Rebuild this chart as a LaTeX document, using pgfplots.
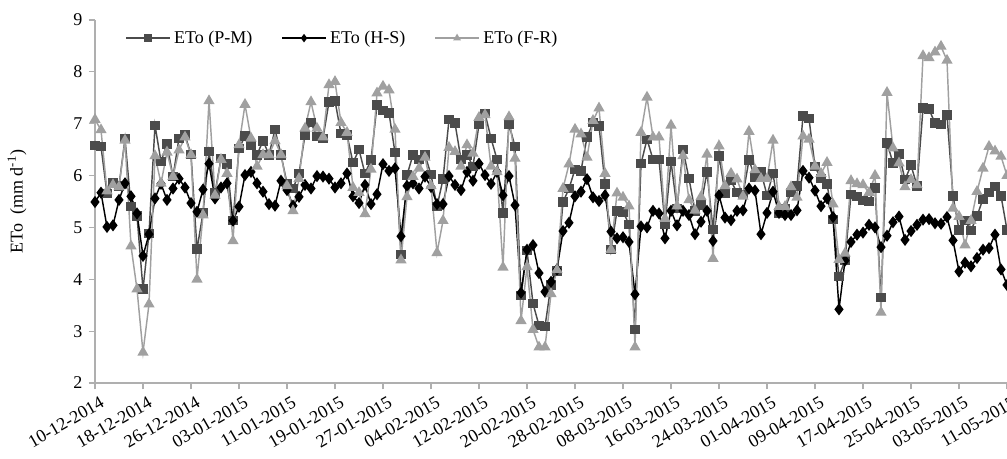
\documentclass[border=0pt]{standalone}
\usepackage{fontspec}
\setmainfont{Liberation Serif}
\usepackage{pgfplots}
\usepackage{pgfplotstable}
\pgfplotsset{compat=1.18}
\definecolor{pmgray}{RGB}{75,75,75}
\definecolor{frgray}{RGB}{160,160,160}
\definecolor{axgray}{RGB}{175,175,175}

% day = days after 10-12-2014; pm = P-M, hs = H-S, fr = F-R (mm/d)
\pgfplotstableread{
day pm hs fr
0 6.58 5.49 7.08
1 6.56 5.67 6.88
2 5.65 5.01 5.70
3 5.86 5.04 5.82
4 5.80 5.53 5.78
5 6.71 5.85 6.68
6 5.40 5.60 4.64
7 5.22 5.27 3.81
8 3.81 4.45 2.59
9 4.88 4.87 3.52
10 6.97 5.56 6.38
11 6.27 5.84 5.85
12 6.61 5.53 6.45
13 5.98 5.75 5.98
14 6.72 5.94 6.49
15 6.78 5.77 6.74
16 6.41 5.47 6.40
17 4.58 5.30 4.00
18 5.28 5.73 5.24
19 6.46 6.23 7.44
20 5.66 5.56 5.62
21 6.33 5.77 6.31
22 6.22 5.85 6.04
23 5.13 5.13 4.74
24 6.52 5.40 6.59
25 6.76 6.01 7.37
26 6.59 6.07 6.72
27 6.40 5.85 6.18
28 6.67 5.69 6.40
29 6.40 5.45 6.40
30 6.89 5.42 6.67
31 6.40 5.90 6.40
32 5.85 5.72 5.80
33 5.75 5.42 5.32
34 6.04 5.59 5.94
35 6.78 5.82 6.91
36 7.02 5.75 7.42
37 6.75 5.99 6.91
38 6.72 5.98 6.74
39 7.42 5.94 7.75
40 7.44 5.77 7.81
41 6.81 5.85 7.02
42 6.78 6.04 6.83
43 6.25 5.60 5.77
44 6.50 5.47 5.67
45 6.04 5.82 5.26
46 6.30 5.45 6.12
47 7.36 5.64 7.59
48 7.26 6.22 7.72
49 7.21 6.09 7.65
50 6.44 6.14 6.89
51 4.48 4.83 4.37
52 6.01 5.80 5.59
53 6.40 5.85 5.98
54 6.31 5.75 6.14
55 6.40 5.98 6.35
56 6.02 5.78 5.80
57 5.40 5.45 4.51
58 5.93 5.45 5.13
59 7.08 5.99 6.54
60 7.01 5.82 6.46
61 6.31 5.72 6.18
62 6.40 6.07 6.59
63 6.18 5.90 6.43
64 6.99 6.23 7.12
65 7.20 6.01 7.17
66 6.72 5.84 6.18
67 6.31 6.07 6.07
68 5.28 5.62 4.23
69 6.99 5.99 7.13
70 6.56 5.43 6.33
71 3.69 3.74 3.20
72 4.55 4.57 4.24
73 3.53 4.66 3.03
74 3.11 4.12 2.69
75 3.09 3.76 2.69
76 3.89 3.95 3.72
77 4.16 4.19 4.18
78 5.49 4.93 5.75
79 5.75 5.09 6.22
80 6.12 5.60 6.89
81 6.09 5.69 6.80
82 6.74 5.93 6.35
83 7.02 5.58 7.06
84 6.96 5.51 7.30
85 5.84 5.62 6.04
86 4.57 4.92 4.57
87 5.32 4.79 5.66
88 5.30 4.81 5.58
89 5.06 4.72 5.41
90 3.03 3.71 2.69
91 6.23 5.02 6.83
92 6.70 5.00 7.51
93 6.31 5.32 6.74
94 6.31 5.27 6.74
95 5.06 4.79 5.17
96 6.27 5.32 6.97
97 5.37 5.04 5.41
98 6.50 5.32 6.38
99 5.94 5.24 5.53
100 5.32 4.87 5.33
101 5.43 5.11 5.59
102 6.07 5.32 6.41
103 4.96 4.74 4.40
104 6.38 5.62 6.57
105 5.66 5.19 5.80
106 5.90 5.14 6.04
107 5.67 5.32 5.93
108 5.64 5.33 5.60
109 6.30 5.75 6.85
110 5.96 5.71 6.11
111 6.07 4.87 5.94
112 5.62 5.28 5.94
113 6.04 5.69 6.68
114 5.28 5.28 5.40
115 5.37 5.24 5.40
116 5.67 5.24 5.78
117 5.80 5.33 5.58
118 7.15 6.09 6.76
119 7.10 5.96 6.70
120 6.17 5.71 6.18
121 5.94 5.41 6.04
122 5.84 5.56 6.25
123 5.15 5.20 5.45
124 4.05 3.42 4.38
125 4.37 4.36 4.50
126 5.64 4.72 5.90
127 5.60 4.86 5.84
128 5.52 4.90 5.82
129 5.50 5.05 5.67
130 5.76 5.00 6.00
131 3.65 4.62 3.36
132 6.63 4.84 7.60
133 6.24 5.10 6.53
134 6.42 5.21 6.24
135 5.92 4.76 5.78
136 6.20 4.93 5.92
137 5.80 5.05 5.82
138 7.30 5.15 8.31
139 7.28 5.16 8.27
140 7.01 5.08 8.38
141 6.98 5.07 8.49
142 7.17 5.20 8.22
143 5.61 4.75 5.37
144 4.95 4.15 5.21
145 5.13 4.32 4.66
146 4.94 4.25 5.13
147 5.22 4.41 5.69
148 5.55 4.57 6.14
149 5.67 4.60 6.56
150 5.79 4.86 6.47
151 5.61 4.19 6.37
152 4.95 3.89 6.00
}\etodata

\begin{document}
\fontsize{9.9}{12}\selectfont
\begin{tikzpicture}
\begin{axis}[
    name=ax,
    scale only axis,
    width=501.6pt, height=199.65pt,
    xmin=0, xmax=152,
    ymin=2, ymax=9,
    axis lines=left,
    axis line style={draw=axgray, line width=0.6pt, -},
    tick style={draw=axgray, line width=0.6pt},
    tick align=outside,
    major tick length=3.5pt,
    xtick={0,8,...,152},
    xticklabels={10-12-2014,18-12-2014,26-12-2014,03-01-2015,11-01-2015,19-01-2015,27-01-2015,04-02-2015,12-02-2015,20-02-2015,28-02-2015,08-03-2015,16-03-2015,24-03-2015,01-04-2015,09-04-2015,17-04-2015,25-04-2015,03-05-2015,11-05-2015},
    x tick label style={rotate=30, anchor=north east, inner sep=1pt,
        xshift=1.5pt, yshift=-3pt},
    ytick={2,3,...,9},
    /pgf/number format/assume math mode=true,
    ylabel={ETo~ (mm d\textsuperscript{-1})},
    ylabel style={at={(axis description cs:-0.0855,0.5)}, anchor=center},
    legend style={at={(axis description cs:0.027,0.95)}, anchor=west,
        draw=none, fill=none, legend columns=3,
        /tikz/every even column/.append style={column sep=14pt}},
    legend image code/.code={\draw[mark repeat=2,mark phase=2,mark size=1.7pt]
        plot coordinates {(0pt,0pt) (12pt,0pt) (24pt,0pt)};},
]
\addplot[pmgray, line width=0.8pt, mark=square*, mark size=2.2pt,
    mark options={solid, fill=pmgray}] table[x=day, y=pm] {\etodata};
\addplot[black, line width=0.8pt, mark=diamond*, mark size=2.7pt,
    mark options={solid, fill=black}] table[x=day, y=hs] {\etodata};
\addplot[frgray, line width=0.8pt, mark=triangle*, mark size=2.8pt,
    mark options={solid, fill=frgray}] table[x=day, y=fr] {\etodata};
\legend{ETo (P-M), ETo (H-S), ETo (F-R)}
\end{axis}
\pgfresetboundingbox
\path[use as bounding box] ([xshift=-52.25pt, yshift=-41.8pt]ax.south west)
    rectangle ([yshift=11pt]ax.north east);
\end{tikzpicture}
\end{document}
